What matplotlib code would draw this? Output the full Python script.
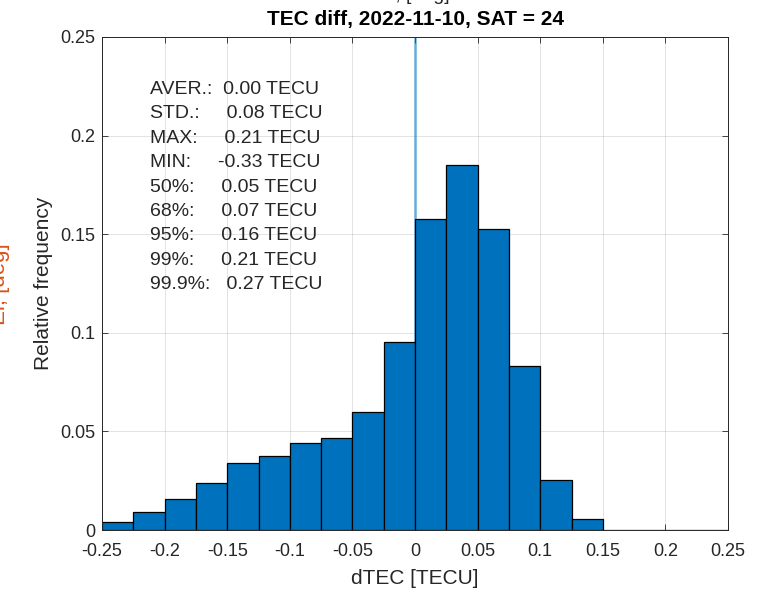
import numpy as np
import matplotlib
matplotlib.use("Agg")
import matplotlib.pyplot as plt
from matplotlib.ticker import FuncFormatter

plt.rcParams['font.family'] = ['Liberation Sans', 'DejaVu Sans']

# histogram of TEC differences, bin width 0.025 TECU
bin_edges = [-0.25, -0.225, -0.2, -0.175, -0.15, -0.125, -0.1, -0.075, -0.05, -0.025,
             0.0, 0.025, 0.05, 0.075, 0.1, 0.125, 0.15, 0.175, 0.2, 0.225, 0.25]
rel_freq = [0.0042, 0.0091, 0.0157, 0.0238, 0.0340, 0.0377, 0.0441, 0.0465, 0.0596, 0.0955,
            0.1575, 0.1852, 0.1524, 0.0830, 0.0252, 0.0054, 0.0, 0.0, 0.0, 0.0]

stat_names = ['AVER.:', 'STD.:', 'MAX:', 'MIN:', '50%:', '68%:', '95%:', '99%:', '99.9%:']
stat_values = [0.00, 0.08, 0.21, -0.33, 0.05, 0.07, 0.16, 0.21, 0.27]
stat_gap = [2, 5, 5, 5, 5, 5, 5, 5, 3]

title = 'TEC diff, 2022-11-10, SAT = 24'

fig = plt.figure(figsize=(7.59, 5.91), dpi=100)
ax = fig.add_axes([0.1344, 0.1032, 0.8248, 0.8342])

ax.axvline(0, color='#0072BD', alpha=0.5, lw=2, zorder=1)
ax.bar(bin_edges[:-1], rel_freq, width=np.diff(bin_edges), align='edge',
       color='#0072BD', edgecolor='#000000', linewidth=0.9, zorder=2)

ax.set_xlim(-0.25, 0.25)
ax.set_ylim(0, 0.25)
ax.set_xticks(np.arange(-0.25, 0.26, 0.05))
ax.set_yticks(np.arange(0, 0.26, 0.05))
fmt = FuncFormatter(lambda v, p: '%g' % (round(v, 3) + 0.0))
ax.xaxis.set_major_formatter(fmt)
ax.yaxis.set_major_formatter(fmt)
ax.grid(True, color='#262626', alpha=0.15, lw=0.6, zorder=0)
ax.set_axisbelow(True)
ax.tick_params(direction='in', length=4, width=0.6, top=True, right=True,
               labelsize=13, colors='#262626')
ax.tick_params(axis='x', pad=9)
ax.tick_params(axis='y', pad=5)
for s in ax.spines.values():
    s.set_color('#262626')
    s.set_linewidth(0.7)
    s.set_zorder(5)

ax.set_xlabel('dTEC [TECU]', fontsize=15, color='#262626', labelpad=7)
ax.set_ylabel('Relative frequency', fontsize=15, color='#262626', labelpad=5)
ax.set_title(title, fontsize=15, fontweight='bold', color='#000000', pad=8.5)

for i, (name, val, gap) in enumerate(zip(stat_names, stat_values, stat_gap)):
    ax.text(0.077, 0.894 - i * 0.0496, '%s%s%.2f TECU' % (name, ' ' * gap, val),
            transform=ax.transAxes, fontsize=14, color='#262626', va='center', ha='left')

# clipped labels belonging to a neighbouring elevation axis
fig.text(0.0135, 1 - 243 / 591, 'El, [deg]', rotation=90, color='#D95319', fontsize=16,
         ha='right', va='top')
fig.text(0.545, 1 - 4 / 591, 'El, [deg]', color='#262626', fontsize=14,
         ha='center', va='bottom')

fig.savefig('out.png', dpi=100)
